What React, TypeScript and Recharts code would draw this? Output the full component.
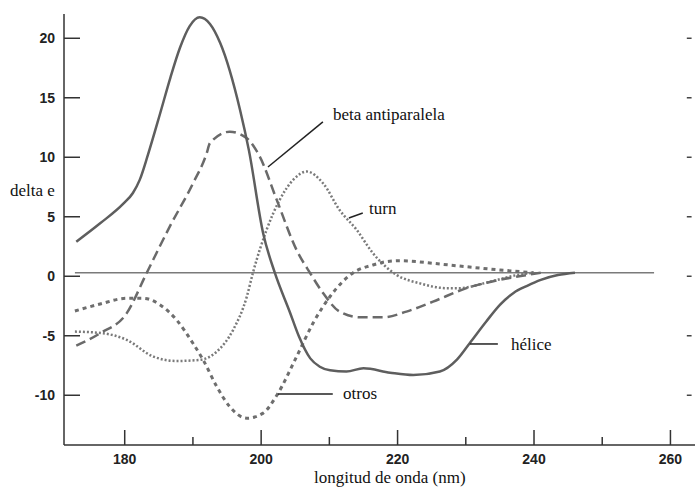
import React from 'react';
import { LineChart, Line, XAxis, YAxis, ReferenceLine } from 'recharts';

// wavelength (nm) and delta epsilon values per structure
const heliceNm = [172.9, 176.4, 179.8, 181.2, 182.2, 183.4, 185.2, 186.7, 188.1, 189.5, 191.0, 192.5, 194.0, 196.9, 198.2, 200.3, 202.0, 204.2, 205.5, 207.2, 208.6, 210.1, 212.5, 215.0, 218.9, 222.3, 226.2, 228.7, 230.6, 233.0, 235.0, 237.0, 239.0, 241.0, 243.5, 246.0];
const heliceVal = [2.9, 4.45, 6.1, 7.0, 8.1, 10.2, 13.7, 16.7, 19.2, 21.0, 21.76, 21.2, 19.6, 14.0, 10.6, 3.6, 0.3, -3.0, -5.0, -6.9, -7.6, -7.9, -8.0, -7.73, -8.1, -8.3, -8.0, -7.0, -5.6, -3.8, -2.4, -1.4, -0.8, -0.3, 0.1, 0.3];

const betaNm = [172.9, 176.4, 180.3, 183.2, 186.6, 190.0, 192.0, 192.5, 195.4, 197.9, 199.8, 202.3, 205.2, 207.2, 209.1, 211.5, 214.5, 217.9, 221.3, 225.2, 230.1, 235.0, 238.9, 241.0];
const betaVal = [-5.83, -4.79, -3.1, 0.25, 4.17, 7.8, 10.3, 11.2, 12.15, 11.6, 10.05, 6.4, 2.2, 0.25, -1.43, -2.97, -3.45, -3.45, -2.97, -2.13, -1.0, -0.3, 0.1, 0.3];

const turnNm = [172.7, 176.8, 180.3, 184.2, 187.6, 191.0, 193.5, 195.9, 197.9, 198.8, 200.8, 202.7, 204.7, 206.7, 209.1, 211.5, 214.0, 216.4, 219.9, 223.3, 227.2, 229.1, 232.6, 237.5, 240.0];
const turnVal = [-4.65, -4.79, -5.35, -6.75, -7.12, -7.03, -6.33, -4.5, -1.71, 0.3, 3.9, 6.4, 8.1, 8.8, 7.8, 5.57, 3.9, 1.93, 0.1, -0.6, -1.0, -1.0, -0.6, 0.1, 0.3];

const otrosNm = [172.7, 176.4, 180.3, 182.7, 185.2, 187.6, 190.0, 191.5, 193.5, 195.4, 197.9, 200.3, 202.3, 205.2, 207.6, 210.1, 213.5, 216.4, 218.4, 220.3, 222.8, 225.2, 230.1, 235.0, 239.9];
const otrosVal = [-2.92, -2.33, -1.85, -1.85, -2.41, -3.67, -5.63, -7.03, -9.28, -10.96, -11.93, -11.5, -10.0, -6.75, -3.95, -1.7, 0.3, 0.95, 1.23, 1.3, 1.23, 1.09, 0.8, 0.53, 0.3];

const baseNm = [172.7, 257.6];
const baseVal = [0.3, 0.3];

const xTicks = [180, 190, 200, 210, 220, 230, 240, 250, 260];
const yTicks = [-10, -5, 0, 5, 10, 15, 20];

const toData = (nm: number[], v: number[]) => nm.map((x, i) => ({ nm: x, v: v[i] }));

const X_DOMAIN: [number, number] = [171.1, 263.6];
const Y_DOMAIN: [number, number] = [-14.18, 22.04];

const tickFont = { fontFamily: '"Liberation Sans", Arial, sans-serif', fontWeight: 700, fontSize: 14, fill: '#222' };

const XTick = (props: any) => {
  const { x, y, payload } = props;
  const major = payload.value % 20 === 0;
  return (
    <g>
      <line x1={x} x2={x} y1={y} y2={y - (major ? 15 : 8)} stroke="#333" strokeWidth={1.5} />
      {major && (
        <text x={x} y={y + 19} textAnchor="middle" style={tickFont}>{payload.value}</text>
      )}
    </g>
  );
};

const YTick = (props: any) => {
  const { x, y, payload } = props;
  return (
    <g>
      <line x1={x} x2={x + 16} y1={y} y2={y} stroke="#333" strokeWidth={1.5} />
      <text x={x - 9} y={y + 5} textAnchor="end" style={tickFont}>{payload.value}</text>
    </g>
  );
};

const serif = '"Liberation Serif", "DejaVu Serif", serif';
const lbl = (left: number, top: number, size = 17): React.CSSProperties => ({
  position: 'absolute', left, top, fontFamily: serif, fontSize: size, lineHeight: 1, whiteSpace: 'nowrap', color: '#111',
});

export default function App() {
  return (
    <div style={{ position: 'relative', width: 687, height: 479 }}>
      <style>{'body{margin:8px 0 0 8px;}'}</style>
      <LineChart width={687} height={471} margin={{ top: 6, right: 0, bottom: 4, left: 0 }}>
        <XAxis
          type="number"
          dataKey="nm"
          domain={X_DOMAIN}
          ticks={xTicks}
          allowDataOverflow
          height={30}
          tickSize={0}
          tickMargin={0}
          tickLine={false}
          tick={<XTick />}
          axisLine={{ stroke: '#333', strokeWidth: 1.5 }}
        />
        <XAxis
          xAxisId="top"
          orientation="top"
          type="number"
          dataKey="nm"
          domain={X_DOMAIN}
          allowDataOverflow
          height={0}
          tick={false}
          tickLine={false}
          axisLine={{ stroke: '#333', strokeWidth: 1.5 }}
        />
        <YAxis
          type="number"
          domain={Y_DOMAIN}
          ticks={yTicks}
          allowDataOverflow
          width={56}
          tickSize={0}
          tickMargin={0}
          tickLine={false}
          tick={<YTick />}
          axisLine={{ stroke: '#333', strokeWidth: 1.5 }}
        />
        {yTicks.map((t) => (
          <ReferenceLine key={'r' + t} segment={[{ x: 262.4, y: t }, { x: 263.1, y: t }]} stroke="#444" strokeWidth={1.5} />
        ))}
        <Line data={toData(baseNm, baseVal)} dataKey="v" type="linear" stroke="#7a7a7a" strokeWidth={1.5} dot={false} isAnimationActive={false} />
        <Line data={toData(turnNm, turnVal)} dataKey="v" type="monotone" stroke="#7a7a7a" strokeWidth={2.5} strokeDasharray="2 2" dot={false} isAnimationActive={false} />
        <Line data={toData(otrosNm, otrosVal)} dataKey="v" type="monotone" stroke="#6e6e6e" strokeWidth={3} strokeDasharray="4 4" dot={false} isAnimationActive={false} />
        <Line data={toData(betaNm, betaVal)} dataKey="v" type="monotone" stroke="#6a6a6a" strokeWidth={2.5} strokeDasharray="10 5" dot={false} isAnimationActive={false} />
        <Line data={toData(heliceNm, heliceVal)} dataKey="v" type="monotone" stroke="#5e5e5e" strokeWidth={2.5} dot={false} isAnimationActive={false} />
        <ReferenceLine segment={[{ x: 201.0, y: 9.18 }, { x: 209.05, y: 12.97 }]} stroke="#222" strokeWidth={1.5} />
        <ReferenceLine segment={[{ x: 212.86, y: 4.9 }, { x: 214.9, y: 5.32 }]} stroke="#222" strokeWidth={1.5} />
        <ReferenceLine segment={[{ x: 230.6, y: -5.69 }, { x: 234.7, y: -5.69 }]} stroke="#222" strokeWidth={1.5} />
        <ReferenceLine segment={[{ x: 202.46, y: -9.89 }, { x: 210.5, y: -9.89 }]} stroke="#222" strokeWidth={1.5} />
      </LineChart>
      <div style={lbl(325, 98)}>beta antiparalela</div>
      <div style={lbl(361, 192)}>turn</div>
      <div style={lbl(503, 328)}>hélice</div>
      <div style={lbl(335, 377)}>otros</div>
      <div style={lbl(2, 174)}>delta e</div>
      <div style={lbl(306, 461)}>longitud de onda (nm)</div>
    </div>
  );
}
